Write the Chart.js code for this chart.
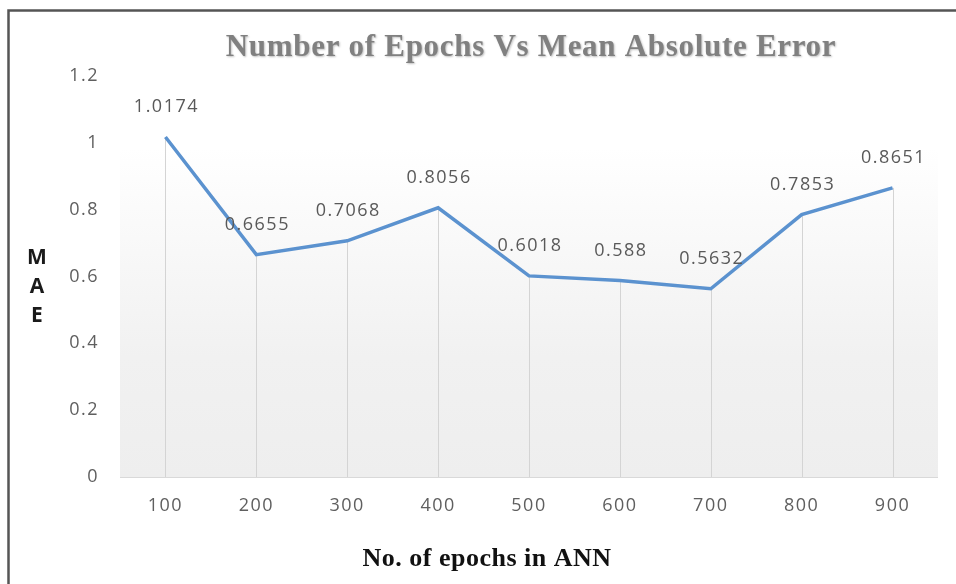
<!DOCTYPE html>
<html>
<head>
<meta charset="utf-8">
<script src="https://cdn.jsdelivr.net/npm/chart.js@4"></script>
<style>
  html, body { margin: 0; padding: 0; background: #ffffff; overflow: hidden; }
  #wrap { width: 956px; height: 584px; position: relative; overflow: hidden; }
  #chart { display: block; }
</style>
</head>
<body>
<div id="wrap"><canvas id="chart" width="956" height="584"></canvas></div>
<script>
// Epoch counts tested for the ANN and the mean absolute error at each
const epochs = ['100', '200', '300', '400', '500', '600', '700', '800', '900'];
const maeValues = [1.0174, 0.6655, 0.7068, 0.8056, 0.6018, 0.588, 0.5632, 0.7853, 0.8651];
const yTickStep = 0.2;
const yMax = 1.2;

const chartTitle = 'Number of Epochs Vs Mean Absolute Error';
const xAxisTitle = 'No. of epochs in ANN';
const yAxisTitle = ['M', 'A', 'E'];

const lineColor = '#5b92cf';
const tickColor = '#5f5f5f';

// Background gradient, drop lines, frame, value labels and titles
const decorations = {
  id: 'decorations',
  beforeDraw(chart) {
    const { ctx, chartArea: a } = chart;
    ctx.save();
    ctx.fillStyle = '#ffffff';
    ctx.fillRect(0, 0, chart.width, chart.height);
    const g = ctx.createLinearGradient(0, a.top, 0, a.bottom);
    g.addColorStop(0, '#ffffff');
    g.addColorStop(0.18, '#ffffff');
    g.addColorStop(0.7, '#f1f1f1');
    g.addColorStop(1, '#eeeeee');
    ctx.fillStyle = g;
    ctx.fillRect(a.left, a.top, a.right - a.left, a.bottom - a.top);

    // vertical drop lines from every point to the category axis
    const meta = chart.getDatasetMeta(0);
    ctx.strokeStyle = '#d4d4d4';
    ctx.lineWidth = 1;
    meta.data.forEach(p => {
      const x = Math.round(p.x) + 0.5;
      ctx.beginPath();
      ctx.moveTo(x, p.y);
      ctx.lineTo(x, a.bottom);
      ctx.stroke();
    });

    // category axis line
    ctx.strokeStyle = '#d9d9d9';
    ctx.beginPath();
    ctx.moveTo(a.left, Math.round(a.bottom) + 0.5);
    ctx.lineTo(a.right, Math.round(a.bottom) + 0.5);
    ctx.stroke();
    ctx.restore();

    // wider character spacing for the tick labels
    ctx.letterSpacing = '1.5px';
  },
  afterDraw(chart) {
    const { ctx } = chart;
    const meta = chart.getDatasetMeta(0);
    ctx.save();

    // value labels above each point
    ctx.letterSpacing = '1.5px';
    ctx.font = '18px "Open Sans"';
    ctx.fillStyle = '#595959';
    ctx.textAlign = 'center';
    ctx.textBaseline = 'middle';
    meta.data.forEach((p, i) => {
      ctx.fillText(String(maeValues[i]), p.x + 1, p.y - 30);
    });

    // chart title
    ctx.font = 'bold 31px "Liberation Serif"';
    ctx.letterSpacing = '0.7px';
    ctx.fillStyle = '#808080';
    ctx.shadowColor = 'rgba(0,0,0,0.25)';
    ctx.shadowOffsetX = 1;
    ctx.shadowOffsetY = 1;
    ctx.shadowBlur = 2;
    ctx.fillText(chartTitle, 531, 48);
    ctx.shadowColor = 'rgba(0,0,0,0)';

    // category axis title
    ctx.font = 'bold 26px "Liberation Serif"';
    ctx.letterSpacing = '0.5px';
    ctx.fillStyle = '#111111';
    ctx.fillText(xAxisTitle, 487, 559);

    // stacked value axis title
    ctx.font = 'bold 21px "Open Sans"';
    ctx.letterSpacing = '0px';
    ctx.fillStyle = '#1a1a1a';
    yAxisTitle.forEach((ch, i) => {
      ctx.fillText(ch, 37, 258 + i * 29);
    });

    // outer frame (top and left edges)
    ctx.strokeStyle = '#555555';
    ctx.lineWidth = 2.5;
    ctx.beginPath();
    ctx.moveTo(8.5, chart.height);
    ctx.lineTo(8.5, 10.5);
    ctx.lineTo(chart.width, 10.5);
    ctx.stroke();
    ctx.restore();
  }
};

new Chart(document.getElementById('chart'), {
  type: 'line',
  data: {
    labels: epochs,
    datasets: [{
      data: maeValues,
      borderColor: lineColor,
      borderWidth: 3.5,
      pointRadius: 0,
      tension: 0,
      fill: false
    }]
  },
  options: {
    responsive: false,
    animation: false,
    layout: { padding: { top: 76, right: 18, left: 0, bottom: 0 } },
    plugins: {
      legend: { display: false },
      tooltip: { enabled: false },
      title: { display: false }
    },
    scales: {
      x: {
        type: 'category',
        offset: true,
        grid: { display: false },
        border: { display: false },
        ticks: {
          color: tickColor,
          font: { family: 'Open Sans', size: 18 },
          padding: 10,
          maxRotation: 0,
          autoSkip: false
        },
        afterFit(scale) { scale.height = 107; }
      },
      y: {
        min: 0,
        max: yMax,
        grid: { display: false },
        border: { display: false },
        ticks: {
          stepSize: yTickStep,
          color: tickColor,
          font: { family: 'Open Sans', size: 18 },
          padding: 13,
          callback: v => String(Math.round(v * 10) / 10)
        },
        afterFit(scale) { scale.width = 120; }
      }
    }
  },
  plugins: [decorations]
});
</script>
</body>
</html>
